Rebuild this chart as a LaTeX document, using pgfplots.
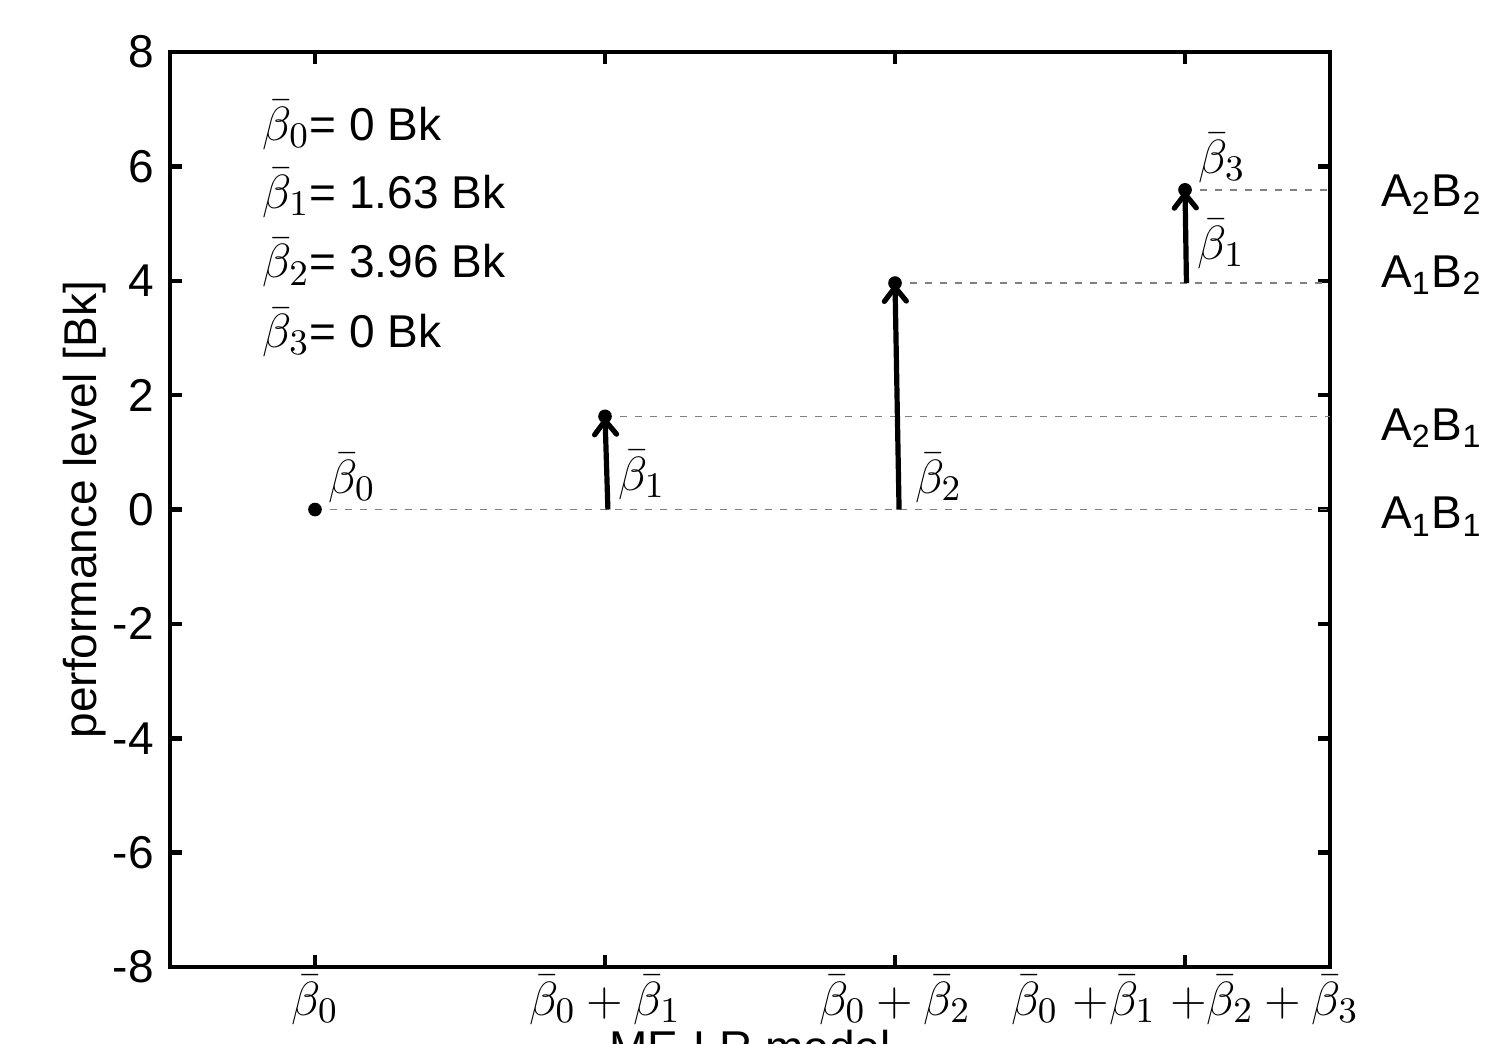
\documentclass[border=0pt]{standalone}
\usepackage{fontspec}
\setmainfont{Liberation Sans}
\usepackage{pgfplots}
\pgfplotsset{compat=1.18}
\usetikzlibrary{arrows.meta}

% levels of the four cell means
\pgfplotstableread{
x y
0 0
1 1.63
2 3.96
3 5.59
}\cellmeans

\newcommand{\mathsize}{\fontsize{12.8}{15}\selectfont}
\newcommand{\bb}[1]{{\mathsize$\bar\beta_{#1}$}}

\begin{document}
\fontsize{11.5}{13.5}\selectfont
\begin{tikzpicture}
\begin{axis}[
  width=290pt, height=228.75pt, scale only axis,
  xmin=-0.5, xmax=3.5, ymin=-8, ymax=8,
  xtick={0,1,2,3},
  xticklabels={$\bar\beta_0$, $\bar\beta_0+\bar\beta_1$, $\bar\beta_0+\bar\beta_2$,
    $\bar\beta_0\ {+}\bar\beta_1\ {+}\bar\beta_2+\bar\beta_3$},
  xticklabel style={font=\mathsize, inner sep=2pt},
  ytick={-8,-6,...,8},
  tick align=inside,
  major tick length=3pt,
  axis line style={line width=1.1pt},
  major tick style={black, line width=1.1pt},
  /pgf/number format/assume math mode=true,
  ylabel={performance level [Bk]},
  ylabel style={at={(axis description cs:0,0.5)}, anchor=center, yshift=21.25pt},
  xlabel={ME-LR model},
  xlabel style={at={(axis description cs:0.5,0)}, anchor=north, yshift=-15.5pt, inner sep=0pt},
  clip=false,
]
\coordinate (sw) at (rel axis cs:0,0);
\coordinate (ne) at (rel axis cs:1,1);

% dashed reference levels
\addplot[gray, line width=0.4pt, dash pattern=on 1.75pt off 2pt] coordinates {(0,0) (3.5,0)};
\addplot[gray, line width=0.4pt, dash pattern=on 1.75pt off 2pt] coordinates {(1,1.63) (3.5,1.63)};
\addplot[gray, line width=0.4pt, dash pattern=on 1.75pt off 2pt] coordinates {(2,3.96) (3.5,3.96)};
\addplot[gray, line width=0.4pt, dash pattern=on 1.75pt off 2pt] coordinates {(3,5.59) (3.5,5.59)};

% effect arrows
\addplot[black, line width=1.3pt, -{Straight Barb[length=3.5pt, width=5.5pt, line cap=round]}]
  coordinates {(1.01,0) (1,1.63)};
\addplot[black, line width=1.3pt, -{Straight Barb[length=3.5pt, width=5.5pt, line cap=round]}]
  coordinates {(2.014,0) (2,3.96)};
\addplot[black, line width=1.3pt, -{Straight Barb[length=3.5pt, width=5.5pt, line cap=round]}]
  coordinates {(3.005,3.96) (3,5.59)};

% cell means
\addplot[only marks, mark=*, mark size=1.5pt, black] table[x=x, y=y] {\cellmeans};

% coefficient labels
\node at (axis cs:0.128,0.55) {\bb{0}};
\node at (axis cs:1.127,0.60) {\bb{1}};
\node at (axis cs:2.15,0.55) {\bb{2}};
\node at (axis cs:3.125,4.64) {\bb{1}};
\node at (axis cs:3.128,6.15) {\bb{3}};

% estimates
\node[anchor=base west, inner sep=0pt] at (axis cs:-0.183,6.46) {\bb{0}= 0 Bk};
\node[anchor=base west, inner sep=0pt] at (axis cs:-0.183,5.27) {\bb{1}= 1.63 Bk};
\node[anchor=base west, inner sep=0pt] at (axis cs:-0.183,4.05) {\bb{2}= 3.96 Bk};
\node[anchor=base west, inner sep=0pt] at (axis cs:-0.183,2.83) {\bb{3}= 0 Bk};

% cell names
\node[anchor=base west, inner sep=0pt] at (axis cs:3.674,5.29) {A\textsubscript{2}B\textsubscript{2}};
\node[anchor=base west, inner sep=0pt] at (axis cs:3.674,3.89) {A\textsubscript{1}B\textsubscript{2}};
\node[anchor=base west, inner sep=0pt] at (axis cs:3.674,1.215) {A\textsubscript{2}B\textsubscript{1}};
\node[anchor=base west, inner sep=0pt] at (axis cs:3.674,-0.34) {A\textsubscript{1}B\textsubscript{1}};
\end{axis}
\pgfresetboundingbox
\path[use as bounding box] ([shift={(-42.5pt,-19pt)}]sw) rectangle ([shift={(45.5pt,13pt)}]ne);
\end{tikzpicture}
\end{document}
